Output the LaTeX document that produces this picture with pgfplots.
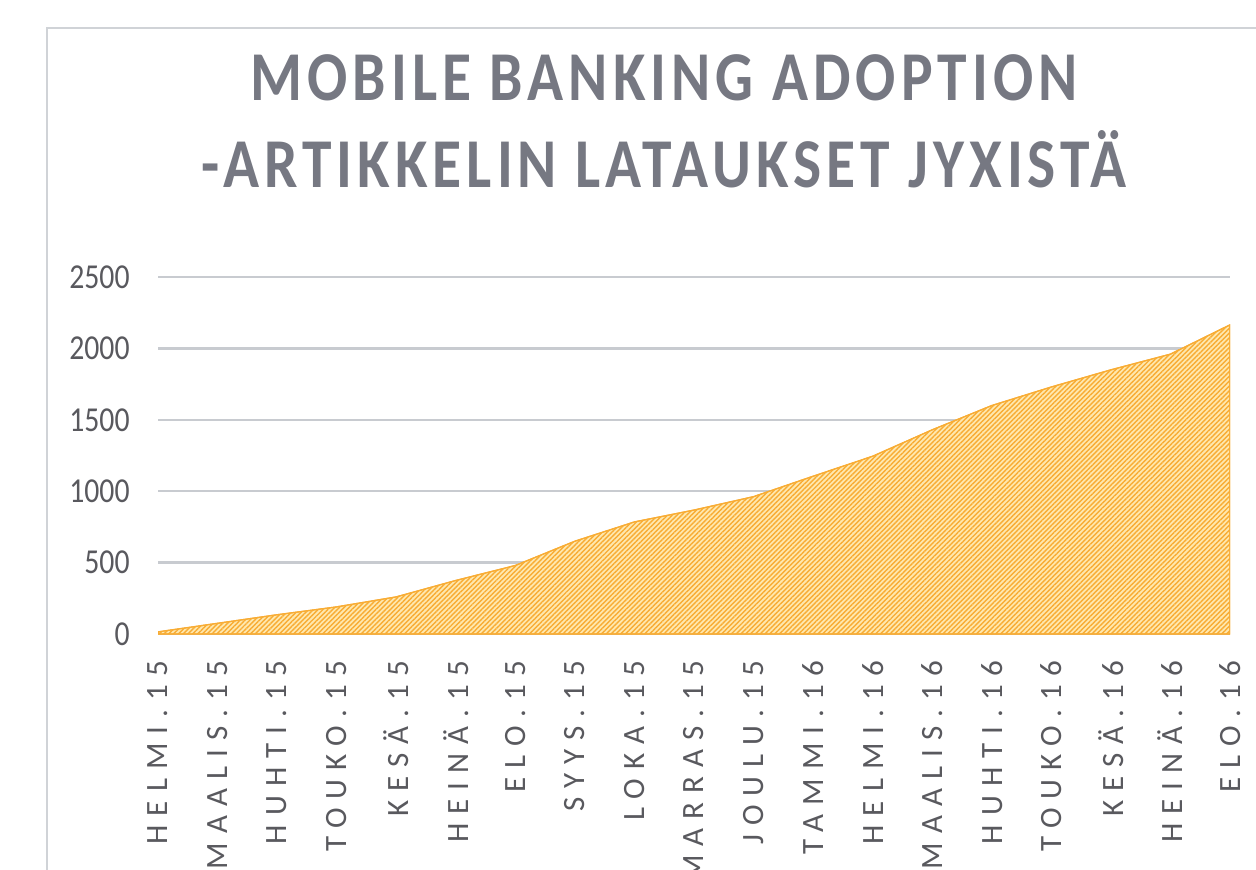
\documentclass[border=0pt]{standalone}
\usepackage{pgfplots}
\pgfplotsset{compat=1.18}
\usetikzlibrary{patterns.meta}
\usepackage{fontspec}
\setmainfont{Carlito}
\newfontfamily\titlefont[FakeStretch=0.85,LetterSpace=7.2]{Carlito}
\newfontfamily\tickfont[FakeStretch=0.85]{Carlito}
\newfontfamily\xlabfont[LetterSpace=29]{Carlito}
\definecolor{titlegray}{RGB}{118,120,130}
\definecolor{tickgray}{RGB}{89,89,94}
\definecolor{gridgray}{RGB}{200,203,208}
\definecolor{framegray}{RGB}{208,211,215}
\definecolor{areabg}{RGB}{255,232,175}
\definecolor{areastripe}{RGB}{248,172,52}
\begin{document}
\begin{tikzpicture}
\useasboundingbox (0,0) rectangle (628pt,-435pt);
\draw[framegray, line width=1pt] (23.5pt,-500pt) -- (23.5pt,-14pt) -- (700pt,-14pt);
\node[anchor=base, text=titlegray, inner sep=0pt, font=\titlefont\bfseries\fontsize{35pt}{42pt}\selectfont] at (332pt,-50.5pt) {MOBILE BANKING ADOPTION};
\node[anchor=base, text=titlegray, inner sep=0pt, font=\titlefont\bfseries\fontsize{35pt}{42pt}\selectfont] at (332pt,-94pt) {-ARTIKKELIN LATAUKSET JYXISTÄ};
\begin{axis}[
  at={(79pt,-317pt)}, anchor=south west,
  scale only axis, width=536pt, height=178.5pt,
  xmin=0, xmax=18, ymin=0, ymax=2500,
  axis line style={draw=none},
  major tick style={draw=none},
  ytick={0,500,1000,1500,2000,2500},
  yticklabels={0,500,1000,1500,2000,2500},
  xtick={0,...,18},
  xticklabels={HELMI.15,MAALIS.15,HUHTI.15,TOUKO.15,KESÄ.15,HEINÄ.15,ELO.15,SYYS.15,LOKA.15,MARRAS.15,JOULU.15,TAMMI.16,HELMI.16,MAALIS.16,HUHTI.16,TOUKO.16,KESÄ.16,HEINÄ.16,ELO.16},
  ymajorgrids,
  major grid style={gridgray, line width=1.2pt},
  yticklabel style={anchor=east, inner sep=0pt, text=tickgray, font=\tickfont\fontsize{17.5pt}{20pt}\selectfont},
  yticklabel shift=14pt,
  xticklabel style={rotate=90, anchor=east, inner sep=0pt, text=tickgray, font=\xlabfont\fontsize{15.5pt}{18pt}\selectfont},
  xticklabel shift=13pt,
]
\addplot[draw=areastripe, line width=0.6pt, fill=areabg,
  postaction={pattern={Lines[angle=45,distance=1.7pt,line width=0.7pt]}, pattern color=areastripe}]
coordinates {
(0,15) (1,75) (2,135) (3,190) (4,260) (5,375) (6,480) (7,650) (8,785) (9,868)
(10,962) (11,1105) (12,1245) (13,1430) (14,1600) (15,1730) (16,1850) (17,1960) (18,2165)
} \closedcycle;
\end{axis}
\end{tikzpicture}
\end{document}
